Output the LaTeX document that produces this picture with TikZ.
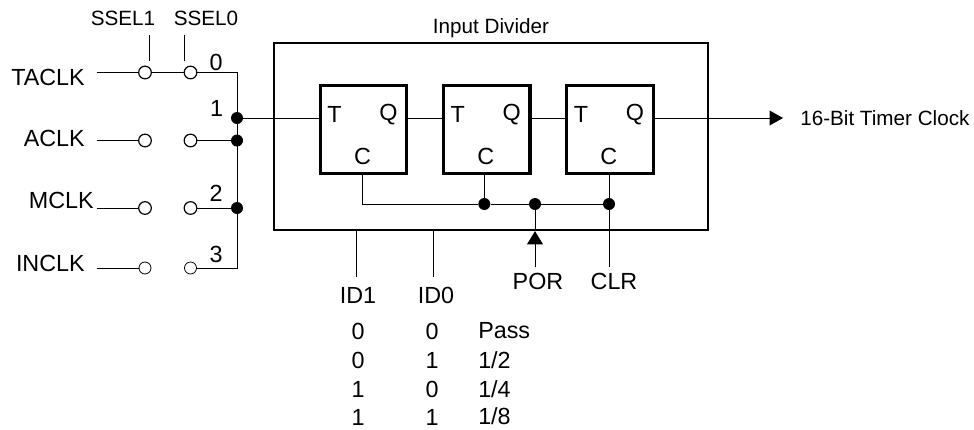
\documentclass[tikz,border=0pt]{standalone}
\usepackage{fontspec}
\setmainfont{Liberation Sans}
\usetikzlibrary{positioning,arrows.meta}

\begin{document}
\begin{tikzpicture}[
  x=0.75pt,y=-0.75pt,
  >=Stealth,
  node distance=25pt,
  every node/.style={inner sep=0pt,font=\fontsize{17.5}{20}\selectfont},
  wire/.style={line width=.75pt},
  small/.style={font=\fontsize{15.5}{18}\selectfont},
  ffbox/.style={draw,line width=2.4pt,minimum width=65pt,minimum height=66pt},
  switch/.style={draw,circle,fill=white,line width=.9pt,minimum size=9.5pt},
  thinswitch/.style={switch,line width=.6pt,minimum size=9pt},
  dot/.style={circle,fill=black,minimum size=9pt}
]
  \useasboundingbox (0,0) rectangle (974,429);

  \node[draw,line width=1.7pt,minimum width=325.5pt,minimum height=140.25pt] (divider) at (491,136.5) {};
  \node[small,above=3pt of divider] (dividertext) {Input Divider};

  \node[ffbox] (ffa) at (363.5,129.5) {};
  \node[ffbox,right=of ffa] (ffb) {};
  \node[ffbox,right=of ffb] (ffc) {};

  \node at ([shift={(-29,-15)}]ffa.center) (ffat) {T};
  \node at ([shift={(25,-15)}]ffa.center) (ffaq) {Q};
  \node at ([shift={(-1,27)}]ffa.center) (ffac) {C};
  \node at ([shift={(-29,-15)}]ffb.center) (ffbt) {T};
  \node at ([shift={(25,-15)}]ffb.center) (ffbq) {Q};
  \node at ([shift={(-1,27)}]ffb.center) (ffbc) {C};
  \node at ([shift={(-29,-15)}]ffc.center) (ffct) {T};
  \node at ([shift={(25,-15)}]ffc.center) (ffcq) {Q};
  \node at ([shift={(-1,27)}]ffc.center) (ffcc) {C};

  % clock sources
  \node[anchor=east] (taclk) at (85,77) {TACLK};
  \node[anchor=east] (aclk) at (85,138) {ACLK};
  \node[anchor=east] (mclk) at (94,200) {MCLK};
  \node[anchor=east] (inclk) at (85,263) {INCLK};
  \coordinate (tastart) at (97,72.5);
  \coordinate (astart) at (97,140.5);
  \coordinate (mstart) at (97,208);
  \coordinate (instart) at (97,268);

  \node[switch] (swta) at (145,72.5) {};
  \node[switch] (swtb) at (190.5,72.5) {};
  \node[switch] (swaa) at (145,140.5) {};
  \node[switch] (swab) at (190.5,140.5) {};
  \node[switch] (swma) at (145,208) {};
  \node[switch] (swmb) at (190.5,208) {};
  \node[thinswitch] (swia) at (145,268) {};
  \node[thinswitch] (swib) at (190.5,268) {};

  \node[small] (ssela) at (123,18) {SSEL1};
  \node[small] (sselb) at (206,18) {SSEL0};
  \coordinate (sselatop) at (149,35);
  \coordinate (sselabot) at (149,60.5);
  \coordinate (sselbtop) at (184,35);
  \coordinate (sselbbot) at (184,60.5);

  \node (numa) at (216,62) {0};
  \node (numb) at (216.5,108) {1};
  \node (numc) at (216,193) {2};
  \node (numd) at (216,254) {3};

  \node[dot] (joinout) at (237,118) {};
  \node[dot] (joina) at (237,140.5) {};
  \node[dot] (joinm) at (237,208) {};
  \coordinate (cornertop) at (237,72.5);
  \coordinate (cornerbot) at (237,268);

  \draw[wire] (tastart) -- (swta);
  \draw[wire] (swta) -- (swtb);
  \draw[wire] (astart) -- (swaa);
  \draw[wire] (mstart) -- (swma);
  \draw[wire] (instart) -- (swia);
  \draw[wire] (sselatop) -- (sselabot);
  \draw[wire] (sselbtop) -- (sselbbot);
  \draw[wire] (swtb) -- (cornertop) -- (cornerbot) -- (swib);
  \draw[wire] (swab) -- (joina);
  \draw[wire] (swmb) -- (joinm);

  % divider chain
  \coordinate (ffain) at (ffa.west |- joinout);
  \coordinate (ffbin) at (ffb.west |- joinout);
  \coordinate (ffcin) at (ffc.west |- joinout);
  \coordinate (ffaout) at (ffa.east |- joinout);
  \coordinate (ffbout) at (ffb.east |- joinout);
  \coordinate (ffcout) at (ffc.east |- joinout);
  \node[small,anchor=west] (timerclock) at (800,118) {16-Bit Timer Clock};
  \coordinate (arrowend) at (783,118);
  \draw[wire] (joinout) -- (ffain);
  \draw[wire] (ffaout) -- (ffbin);
  \draw[wire] (ffbout) -- (ffcin);
  \draw[wire,-{Stealth[length=10pt,width=11pt,inset=0pt]}] (ffcout) -- (arrowend);

  % clear bus
  \node[dot] (busb) at (484.3,204) {};
  \node[dot] (buspor) at (535,204) {};
  \node[dot] (busclr) at (609,204) {};
  \coordinate (buscorner) at (362,204);
  \draw[wire] (ffa.south -| buscorner) -- (buscorner) -- (busb);
  \draw[wire] (busb) -- (buspor);
  \draw[wire] (buspor) -- (busclr);
  \draw[wire] (ffb.south -| busb) -- (busb);
  \draw[wire] (ffc.south -| busclr) -- (busclr);

  \node (por) at (538,281.5) {POR};
  \node (clr) at (614,281.5) {CLR};
  \node (ida) at (358,295) {ID1};
  \node (idb) at (436,295) {ID0};
  \coordinate (portop) at (535,267);
  \coordinate (clrtop) at (609,267);
  \draw[wire,-{Stealth[length=10pt,width=12pt,inset=0pt]}] (portop) -- (divider.south -| portop);
  \draw[wire] (divider.south -| portop) -- (buspor);
  \draw[wire] (busclr) -- (clrtop);
  \coordinate (idatop) at (356,277);
  \coordinate (idbtop) at (433,277);
  \draw[wire] (idatop) -- (divider.south -| idatop);
  \draw[wire] (idbtop) -- (divider.south -| idbtop);

  % ratio table
  \node (rowaa) at (358,331) {0};
  \node (rowab) at (432,331) {0};
  \node[anchor=west] (rowac) at (478,331) {Pass};
  \node (rowba) at (358,360) {0};
  \node (rowbb) at (432,360) {1};
  \node[anchor=west] (rowbc) at (478,360) {1/2};
  \node (rowca) at (358,389) {1};
  \node (rowcb) at (432,389) {0};
  \node[anchor=west] (rowcc) at (478,389) {1/4};
  \node (rowda) at (358,417) {1};
  \node (rowdb) at (432,417) {1};
  \node[anchor=west] (rowdc) at (478,416.5) {1/8};
\end{tikzpicture}
\end{document}
